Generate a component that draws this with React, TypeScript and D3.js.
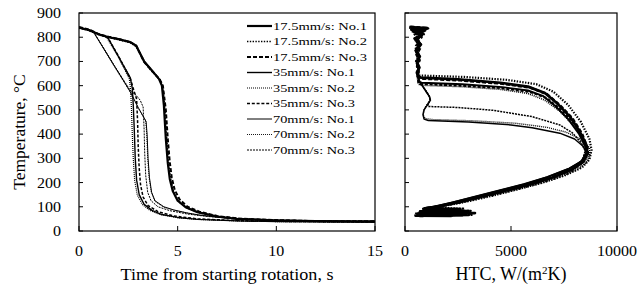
import React from 'react';
import * as d3 from 'd3';

type Pt = [number, number];

const seriesLabels = [
  '17.5mm/s: No.1', '17.5mm/s: No.2', '17.5mm/s: No.3',
  '35mm/s: No.1', '35mm/s: No.2', '35mm/s: No.3',
  '70mm/s: No.1', '70mm/s: No.2', '70mm/s: No.3',
];

const tempTicks = [0, 100, 200, 300, 400, 500, 600, 700, 800, 900];
const timeTicks = [0, 5, 10, 15];
const htcTicks = [0, 5000, 10000];

// cooling curves: [time s, temperature C]
const cool175No1: Pt[] = [[0, 840], [0.5, 830], [1.0, 812], [1.5, 800], [2.0, 792], [2.6, 780], [2.9, 765], [3.3, 700], [3.6, 672], [4.05, 628], [4.2, 600], [4.3, 520], [4.4, 380], [4.5, 280], [4.6, 215], [4.75, 165], [5.0, 125], [5.4, 98], [6.0, 78], [7.0, 60], [8.0, 50], [10, 44], [12, 41], [15, 40]];
const cool175No2: Pt[] = [[0, 838], [0.5, 828], [1.0, 810], [1.5, 800], [2.0, 790], [2.6, 778], [2.9, 762], [3.3, 702], [3.6, 668], [4.1, 625], [4.25, 590], [4.35, 500], [4.45, 370], [4.55, 270], [4.65, 210], [4.8, 160], [5.05, 122], [5.5, 95], [6.1, 76], [7.0, 60], [8.0, 51], [10, 44], [12, 41], [15, 39]];
const cool175No3: Pt[] = [[0, 842], [0.5, 832], [1.0, 813], [1.5, 802], [2.0, 793], [2.6, 780], [2.9, 765], [3.3, 698], [3.6, 670], [4.1, 625], [4.25, 600], [4.4, 500], [4.5, 380], [4.6, 285], [4.7, 220], [4.85, 170], [5.1, 130], [5.5, 100], [6.1, 80], [7.0, 62], [8.0, 52], [10, 45], [12, 41], [15, 40]];
const cool35No1: Pt[] = [[0, 840], [0.5, 830], [1.0, 812], [1.45, 800], [2.0, 720], [2.6, 632], [2.7, 590], [2.75, 520], [2.8, 420], [2.85, 300], [2.92, 210], [3.05, 150], [3.3, 110], [3.7, 85], [4.2, 68], [5.0, 56], [6.0, 48], [8.0, 42], [10, 39], [15, 37]];
const cool35No2: Pt[] = [[0, 840], [0.5, 830], [1.0, 812], [1.4, 800], [2.0, 718], [2.55, 628], [2.62, 580], [2.66, 500], [2.7, 400], [2.75, 300], [2.82, 210], [2.95, 150], [3.2, 110], [3.6, 85], [4.1, 68], [5.0, 55], [6.0, 48], [8.0, 42], [10, 39], [15, 37]];
const cool35No3: Pt[] = [[0, 840], [0.5, 830], [1.0, 812], [1.45, 800], [2.0, 722], [2.6, 630], [2.8, 575], [2.92, 545], [2.97, 450], [3.0, 350], [3.05, 260], [3.12, 190], [3.25, 140], [3.5, 105], [4.0, 80], [4.8, 62], [6.0, 50], [8.0, 43], [10, 40], [15, 37]];
const cool70No1: Pt[] = [[0, 840], [0.4, 832], [0.75, 820], [1.2, 760], [1.8, 680], [2.3, 615], [2.6, 575], [3.0, 510], [3.4, 452], [3.45, 400], [3.5, 300], [3.57, 220], [3.68, 160], [3.85, 125], [4.3, 100], [4.8, 87], [5.5, 74], [6.1, 66], [7.0, 57], [8.0, 50], [10, 43], [12, 40], [15, 38]];
const cool70No2: Pt[] = [[0, 838], [0.4, 830], [0.75, 818], [1.2, 758], [1.8, 678], [2.3, 612], [2.6, 572], [3.0, 508], [3.38, 455], [3.43, 400], [3.48, 300], [3.55, 220], [3.66, 160], [3.85, 122], [4.3, 98], [4.9, 84], [6.0, 66], [8.0, 50], [10, 43], [15, 38]];
const cool70No3: Pt[] = [[0, 840], [0.4, 831], [0.75, 820], [1.2, 762], [1.8, 682], [2.3, 618], [2.6, 580], [2.9, 560], [3.1, 540], [3.25, 512], [3.3, 420], [3.33, 320], [3.38, 230], [3.48, 160], [3.65, 125], [4.0, 100], [4.6, 84], [5.5, 70], [6.5, 60], [8.0, 50], [10, 43], [15, 38]];

// heat transfer coefficient vs temperature: [HTC W/(m2K), temperature C]
const htc175No1: Pt[] = [[200, 842], [1050, 838], [300, 834], [950, 828], [500, 818], [800, 808], [450, 795], [750, 770], [500, 745], [700, 720], [550, 700], [680, 675], [560, 655], [620, 640], [750, 633], [2500, 626], [4500, 612], [5800, 596], [6600, 570], [7200, 525], [7800, 470], [8250, 410], [8550, 350], [8600, 322], [8400, 285], [7900, 255], [7000, 222], [6000, 195], [4800, 168], [3600, 142], [2600, 120], [1700, 103], [1000, 95], [2600, 90], [900, 86], [3000, 82], [700, 78], [3300, 74], [800, 70], [3000, 66], [500, 63], [2200, 62]];
const htc175No2: Pt[] = [[300, 840], [1100, 836], [250, 830], [900, 824], [450, 812], [700, 790], [480, 760], [650, 730], [520, 700], [640, 672], [560, 650], [700, 642], [2800, 636], [4800, 624], [6200, 606], [7000, 575], [7700, 520], [8300, 450], [8700, 380], [8800, 335], [8700, 295], [8350, 262], [7500, 228], [6500, 200], [5300, 172], [4100, 145], [3000, 123], [2000, 106], [1200, 97], [2800, 92], [1000, 88], [3100, 83], [800, 79], [2900, 75], [600, 70], [3200, 67], [700, 64]];
const htc175No3: Pt[] = [[250, 843], [1000, 838], [350, 832], [900, 826], [520, 815], [780, 800], [500, 780], [720, 755], [540, 728], [690, 705], [570, 680], [640, 655], [600, 638], [780, 629], [2600, 622], [4600, 608], [5900, 592], [6700, 565], [7300, 520], [7900, 465], [8350, 402], [8600, 345], [8620, 318], [8350, 282], [7850, 252], [6900, 220], [5900, 192], [4700, 165], [3500, 140], [2500, 118], [1600, 102], [950, 94], [2400, 89], [850, 85], [2800, 80], [650, 76], [3100, 72], [900, 68], [2700, 65], [600, 62]];
const htc35No1: Pt[] = [[300, 840], [1000, 834], [400, 826], [850, 815], [500, 798], [720, 775], [520, 750], [680, 725], [560, 700], [660, 675], [580, 650], [650, 628], [620, 615], [800, 612], [2700, 606], [4600, 594], [5800, 580], [6500, 558], [7100, 515], [7700, 462], [8200, 402], [8500, 348], [8560, 322], [8300, 286], [7700, 256], [6700, 222], [5600, 193], [4400, 166], [3200, 140], [2200, 117], [1400, 100], [850, 92], [2300, 87], [700, 82], [2900, 77], [800, 72], [2600, 67], [500, 64]];
const htc35No2: Pt[] = [[200, 838], [950, 832], [350, 822], [800, 810], [480, 790], [700, 765], [520, 735], [660, 710], [560, 685], [640, 660], [580, 635], [620, 612], [700, 602], [2700, 596], [4500, 585], [5800, 568], [6600, 540], [7300, 495], [7900, 440], [8400, 385], [8700, 340], [8720, 318], [8550, 282], [8100, 253], [7200, 220], [6200, 192], [5000, 165], [3800, 140], [2700, 118], [1700, 101], [1000, 93], [2500, 88], [800, 83], [3000, 78], [700, 73], [2800, 69], [600, 65]];
const htc35No3: Pt[] = [[300, 840], [1050, 835], [400, 825], [900, 812], [500, 795], [730, 772], [530, 745], [670, 718], [570, 693], [650, 668], [590, 645], [630, 620], [720, 607], [2600, 600], [4500, 590], [5900, 574], [6700, 548], [7300, 505], [7900, 452], [8350, 395], [8600, 345], [8640, 320], [8420, 284], [7900, 254], [6950, 221], [5950, 193], [4750, 166], [3550, 141], [2450, 118], [1550, 101], [920, 93], [2450, 88], [760, 83], [2950, 78], [750, 73], [2700, 68], [550, 64]];
const htc70No1: Pt[] = [[300, 840], [1000, 834], [400, 824], [800, 810], [500, 790], [700, 765], [530, 738], [680, 712], [570, 688], [650, 662], [600, 640], [700, 615], [850, 595], [1000, 575], [1150, 555], [1200, 540], [1050, 520], [900, 500], [850, 480], [900, 462], [1100, 456], [3000, 450], [5000, 438], [6000, 426], [7300, 404], [8000, 380], [8400, 350], [8550, 325], [8350, 290], [7750, 258], [6750, 224], [5700, 195], [4500, 168], [3300, 142], [2250, 119], [1400, 102], [850, 93], [2200, 88], [700, 83], [2700, 78], [500, 73], [2400, 69], [650, 65]];
const htc70No2: Pt[] = [[250, 838], [900, 832], [380, 822], [780, 806], [480, 786], [690, 760], [540, 735], [670, 708], [580, 684], [640, 658], [610, 636], [720, 612], [880, 592], [1050, 572], [1180, 552], [1180, 538], [1000, 518], [880, 498], [860, 478], [950, 464], [1300, 460], [3200, 455], [5200, 445], [6700, 428], [7600, 408], [8200, 383], [8550, 352], [8650, 326], [8520, 292], [8050, 260], [7150, 226], [6150, 196], [4950, 169], [3750, 143], [2600, 120], [1650, 103], [950, 94], [2350, 89], [780, 84], [2800, 79], [600, 74], [2600, 70], [450, 66]];
const htc70No3: Pt[] = [[280, 840], [950, 833], [420, 823], [820, 808], [500, 788], [700, 762], [540, 736], [670, 710], [575, 686], [645, 660], [605, 638], [700, 614], [860, 594], [1020, 574], [1150, 556], [1180, 540], [1080, 522], [1100, 514], [2500, 510], [4200, 498], [6000, 472], [7300, 438], [7900, 405], [8300, 365], [8500, 332], [8380, 294], [7900, 260], [6950, 225], [5950, 195], [4750, 168], [3550, 142], [2450, 119], [1550, 102], [900, 93], [2300, 88], [720, 83], [2750, 78], [620, 73], [2500, 69], [520, 65]];

const coolingCurves = [cool175No1, cool175No2, cool175No3, cool35No1, cool35No2, cool35No3, cool70No1, cool70No2, cool70No3];
const htcCurves = [htc175No1, htc175No2, htc175No3, htc35No1, htc35No2, htc35No3, htc70No1, htc70No2, htc70No3];

// line look per series
const widths = [2.2, 1.7, 2, 1.4, 1.2, 1.5, 1, 0.9, 1];
const dashes = ['', '1.4,1.4', '4,2', '', '1,1', '3,1.8', '', '1,1', '2,1'];

const FONT = '"Liberation Serif", "Times New Roman", serif';

export default function App() {
  const x = d3.scaleLinear().domain([0, 15]).range([79, 375]);
  const y = d3.scaleLinear().domain([0, 900]).range([231, 13]);
  const xh = d3.scaleLinear().domain([0, 10000]).range([405, 617]);

  const lineL = d3.line<Pt>().x(d => x(d[0])).y(d => y(d[1]));
  const lineR = d3.line<Pt>().x(d => xh(d[0])).y(d => y(d[1]));

  const order = d3.range(seriesLabels.length).reverse();

  return (
    <svg width={639} height={290} style={{ position: 'absolute', left: 0, top: 0, background: '#fff' }}
      fontFamily={FONT}>
      <defs>
        <clipPath id="clipR"><rect x={405} y={13} width={212} height={218} /></clipPath>
        <clipPath id="clipL"><rect x={79} y={13} width={296} height={218} /></clipPath>
      </defs>

      {/* left panel */}
      <g clipPath="url(#clipL)">
        {order.map(i => (
          <path key={i} d={lineL(coolingCurves[i]) || ''} fill="none" stroke="#000"
            strokeWidth={widths[i]} strokeDasharray={dashes[i] || undefined} strokeLinejoin="round" />
        ))}
      </g>
      <rect x={79} y={13} width={296} height={218} fill="none" stroke="#000" strokeWidth={1.2} />
      {tempTicks.map(v => (
        <g key={'ly' + v}>
          <line x1={79} x2={83} y1={y(v)} y2={y(v)} stroke="#000" strokeWidth={1} />
          <text x={61} y={y(v) + 5} textAnchor="end" fontSize={14}
            textLength={String(v).length * 8} lengthAdjust="spacingAndGlyphs">{v}</text>
        </g>
      ))}
      {timeTicks.map(v => (
        <g key={'lx' + v}>
          <line x1={x(v)} x2={x(v)} y1={231} y2={226} stroke="#000" strokeWidth={1} />
          <text x={x(v)} y={256} textAnchor="middle" fontSize={14}
            textLength={String(v).length * 8} lengthAdjust="spacingAndGlyphs">{v}</text>
        </g>
      ))}
      <text x={227} y={280} textAnchor="middle" fontSize={17.5} textLength={213}
        lengthAdjust="spacingAndGlyphs">Time from starting rotation, s</text>
      <text transform="translate(25,132) rotate(-90)" textAnchor="middle" fontSize={17.5}>Temperature, °C</text>

      {/* legend */}
      {seriesLabels.map((s, i) => {
        const ly = 26 + i * 15.5;
        return (
          <g key={'lg' + i}>
            <line x1={247} x2={272} y1={ly} y2={ly} stroke="#000" strokeWidth={widths[i]}
              strokeDasharray={dashes[i] || undefined} />
            <text x={273} y={ly + 3.5} fontSize={10} textLength={i < 3 ? 94 : 82}
              lengthAdjust="spacingAndGlyphs">{s}</text>
          </g>
        );
      })}

      {/* right panel */}
      <g clipPath="url(#clipR)">
        {order.map(i => (
          <path key={i} d={lineR(htcCurves[i]) || ''} fill="none" stroke="#000"
            strokeWidth={widths[i] + 0.5} strokeDasharray={dashes[i] || undefined} strokeLinejoin="round" />
        ))}
      </g>
      <rect x={405} y={13} width={212} height={218} fill="none" stroke="#000" strokeWidth={1.2} />
      {tempTicks.map(v => (
        <line key={'ry' + v} x1={405} x2={409} y1={y(v)} y2={y(v)} stroke="#000" strokeWidth={1} />
      ))}
      {htcTicks.map(v => (
        <g key={'rx' + v}>
          <line x1={xh(v)} x2={xh(v)} y1={231} y2={226} stroke="#000" strokeWidth={1} />
          <text x={xh(v)} y={256} textAnchor="middle" fontSize={14}
            textLength={String(v).length * 8} lengthAdjust="spacingAndGlyphs">{v}</text>
        </g>
      ))}
      <text x={511} y={280} textAnchor="middle" fontSize={18}>
        HTC, W/(m<tspan fontSize={11} dy={-6}>2</tspan><tspan dy={6}>K)</tspan>
      </text>
    </svg>
  );
}
